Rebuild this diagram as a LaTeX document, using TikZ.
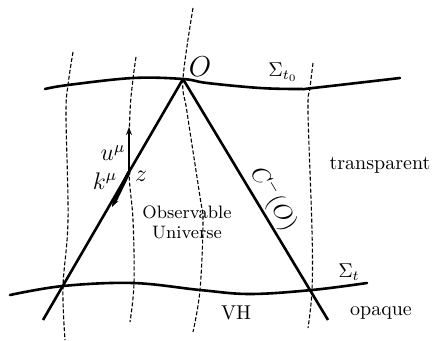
\documentclass[tikz,border=0pt]{standalone}
\usetikzlibrary{arrows.meta}
\begin{document}
\begin{tikzpicture}[x=0.5pt,y=-0.5pt,
  surface/.style={line width=1.3pt, line cap=round},
  cone/.style={line width=1.3pt},
  wline/.style={line width=0.55pt, dash pattern=on 2pt off 1pt},
  vec/.style={line width=0.9pt, -{Stealth[length=4pt,width=3pt]}},
  lbl/.style={inner sep=1pt}]
\useasboundingbox (0,0) rectangle (432,341);
% key points
\coordinate (O) at (183,79);
\coordinate (zz) at (129,172);
\coordinate (L) at (43,320);
\coordinate (R) at (328,320);
\coordinate (uend) at (129,127);
\coordinate (kend) at (112,207);
% world lines (dashed)
\draw[wline] plot[smooth, tension=0.6] coordinates {(73,52) (68,85) (66,115) (68,220) (63,287) (65,340)};
\draw[wline] plot[smooth, tension=0.6] coordinates {(136,57) (133,79) (130,112) (129,172) (133,220) (134,283) (130,322)};
\draw[wline] plot[smooth, tension=0.6] coordinates {(193,8) (183,79) (187,112) (200,197) (203,222) (200,290) (193,332)};
\draw[wline] plot[smooth, tension=0.6] coordinates {(313,63) (310,88) (308,112) (312,230) (312,290) (308,328)};
% hypersurfaces
\draw[surface] plot[smooth, tension=0.6] coordinates {(45,89) (68,85) (133,78) (183,79) (207,83) (260,88) (300,89) (313,88) (400,78)};
\draw[surface] plot[smooth, tension=0.6] coordinates {(10,295) (63,286) (133,283) (200,290) (250,294) (312,290) (367,283)};
% past light cone
\draw[cone] (O) -- (L);
\draw[cone] (O) -- (R);
% vectors
\draw[vec] (zz) -- (uend);
\draw[vec, line width=1.8pt] (zz) -- (kend);
% labels
\node[lbl, font=\Large] (Olbl) at (200,67) {$O$};
\node[lbl] (Sig0) at (283,72) {$\Sigma_{t_0}$};
\node[lbl] (Sigt) at (349,272) {$\Sigma_t$};
\node[lbl, font=\large] (ulbl) at (113,153) {$u^\mu$};
\node[lbl, font=\large] (klbl) at (105,181) {$k^\mu$};
\node[lbl, font=\large] (zlbl) at (141,176) {$z$};
\node[lbl, font=\small, align=center] (obs) at (187,222) {Observable\\[-1pt]Universe};
\node[lbl] (transp) at (380,165) {transparent};
\node[lbl] (opaque) at (381,313) {opaque};
\node[lbl] (VH) at (236,313) {VH};
\node[lbl, font=\large, rotate=-59] (cone) at (273,199) {$C^{-}(O)$};
\end{tikzpicture}
\end{document}
